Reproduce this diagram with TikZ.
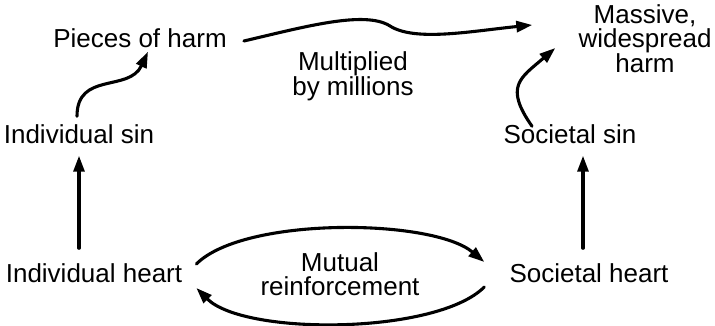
\documentclass[tikz,border=0pt]{standalone}
\usepackage{fontspec}
\setmainfont{Liberation Sans}
\usepackage{tikz}
\usetikzlibrary{arrows.meta}
\tikzstyle{every node}=[font=\fontsize{26}{23.5}\selectfont, align=center, inner sep=2pt]
\tikzstyle{link}=[->, line width=3.1pt]

\begin{document}
\begin{tikzpicture}[line cap=round,line join=round,>={Triangle[length=16pt,width=11pt]},x=1pt,y=1pt]
            \useasboundingbox (0,0) rectangle (715,326);
            % the four corners
            \node (pieces) at (140,288) {Pieces of harm};
            \node (massive) at (645,287) {Massive,\\widespread\\harm};
            \node (isin) at (79,192) {Individual sin};
            \node (ssin) at (570,192) {Societal sin};
            \node (iheart) at (94,53) {Individual heart};
            \node (sheart) at (589,53) {Societal heart};
            % labels in the middle
            \node (times) at (353,250) {Multiplied\\by millions};
            \node (mutual) at (340,52) {Mutual\\reinforcement};
            \coordinate (bend) at (390,300);

            \draw [link, shorten <=13pt, shorten >=10pt] (isin.south |- iheart.north) -- (isin.south);
            \draw [link, shorten <=13pt, shorten >=10pt] ([xshift=-6pt]sheart.north) -- ([xshift=-6pt]sheart.north |- ssin.south);
            \draw [link] ([shift={(-2,6)}]isin.north) to[out=90,in=245,looseness=1.2] ([shift={(8,-2)}]pieces.south);
            \draw [link] ([shift={(15,-3)}]pieces.east) .. controls +(60,14) and +(-25,16) .. (bend) .. controls +(25,-16) and +(-60,-6) .. ([shift={(-44,14)}]massive.west);
            \draw [link] ([shift={(-38,-4)}]ssin.north) .. controls +(-28,40) and +(-35,-30) .. ([shift={(-21,-9)}]massive.west);
            % mutual loop between the hearts
            \draw [link] ([shift={(12,9)}]iheart.east) to[out=45,in=140,looseness=0.6] ([shift={(-23,11)}]sheart.west);
            \draw [link] ([shift={(-23,-14)}]sheart.west) to[out=-135,in=-45,looseness=0.6] ([shift={(12,-15)}]iheart.east);
\end{tikzpicture}
\end{document}
